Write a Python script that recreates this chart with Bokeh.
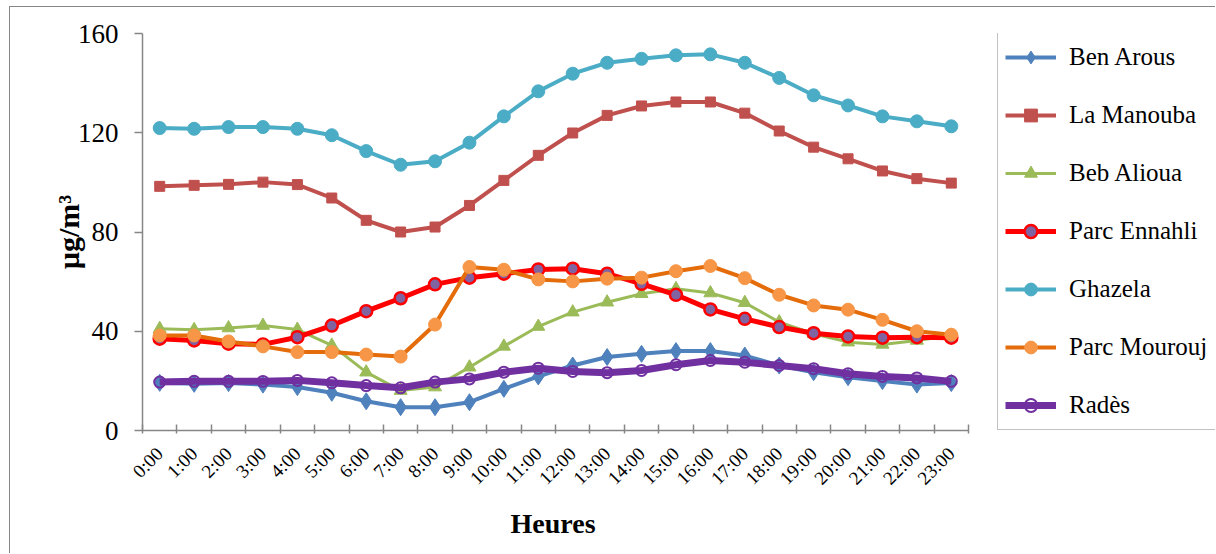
import math
from bokeh.plotting import figure
from bokeh.models import Range1d, FixedTicker, Legend, LegendItem, Title
from bokeh.embed import file_html
from bokeh.resources import INLINE

hours = ["0:00", "1:00", "2:00", "3:00", "4:00", "5:00", "6:00", "7:00", "8:00", "9:00",
         "10:00", "11:00", "12:00", "13:00", "14:00", "15:00", "16:00", "17:00", "18:00",
         "19:00", "20:00", "21:00", "22:00", "23:00"]

ben_arous = [19.2, 18.8, 19.1, 18.5, 17.5, 15.2, 11.8, 9.4, 9.4, 11.4, 16.8, 21.8,
             26.2, 29.6, 30.9, 32.0, 32.0, 30.2, 26.2, 23.5, 21.5, 19.9, 18.5, 19.1]
la_manouba = [98.4, 98.8, 99.2, 100.1, 99.1, 93.7, 84.7, 80.0, 82.0, 90.7, 100.8, 110.9,
              119.9, 127.0, 130.8, 132.4, 132.4, 127.9, 120.7, 114.2, 109.5, 104.6, 101.5, 99.7]
beb_alioua = [41.0, 40.6, 41.3, 42.3, 40.7, 34.3, 23.5, 16.1, 17.5, 25.5, 33.9, 41.9,
              47.7, 51.7, 55.1, 57.1, 55.4, 51.5, 43.7, 39.0, 35.6, 34.7, 36.3, 38.3]
parc_ennahli = [37.0, 36.3, 35.0, 34.7, 37.6, 42.3, 48.1, 53.3, 58.9, 61.6, 63.2, 64.9,
                65.2, 63.2, 59.1, 54.7, 48.8, 45.0, 41.7, 39.2, 37.9, 37.4, 37.6, 37.4]
ghazela = [121.9, 121.6, 122.3, 122.3, 121.6, 119.0, 112.6, 107.1, 108.5, 116.0, 126.6, 136.7,
           143.8, 148.2, 149.8, 151.2, 151.6, 148.2, 142.1, 135.1, 131.0, 126.6, 124.6, 122.6]
parc_mourouj = [38.3, 38.3, 35.9, 33.9, 31.6, 31.6, 30.6, 29.8, 42.7, 65.9, 64.8, 60.9,
                60.1, 61.2, 61.6, 64.2, 66.3, 61.4, 54.7, 50.4, 48.7, 44.6, 40.0, 38.6]
rades = [19.5, 19.8, 19.8, 19.8, 20.2, 19.2, 18.1, 17.2, 19.5, 20.8, 23.5, 25.1,
         23.8, 23.3, 24.2, 26.5, 28.2, 27.5, 26.2, 24.9, 22.9, 21.8, 21.2, 19.8]

n = len(hours)
x = [i + 0.5 for i in range(n)]

SERIF = "Liberation Serif"
AXIS_GRAY = "#868686"

# layout (page pixels): data area 142..968, frame extended to 1215 so the legend box fits in it
PAGE_X0, PAGE_Y0 = 10, 7
FRAME_L, DATA_R, FRAME_R = 142, 968, 1215
x_end = n * (FRAME_R - FRAME_L) / (DATA_R - FRAME_L)

W, H = 1206, 547
p = figure(width=W, height=H, output_backend="svg", toolbar_location=None,
           x_range=Range1d(0, x_end), y_range=Range1d(0, 160),
           min_border_left=FRAME_L - PAGE_X0, min_border_right=PAGE_X0 + W - FRAME_R,
           min_border_top=33 - PAGE_Y0, min_border_bottom=PAGE_Y0 + H - 430,
           styles={"margin-left": "9px", "margin-top": "6px",
                   "border-left": "1px solid #868686", "border-top": "1px solid #868686"})
p.outline_line_color = None
p.xgrid.grid_line_color = None
p.ygrid.grid_line_color = None
p.background_fill_color = "white"
p.border_fill_color = "white"

# x axis
p.xaxis.bounds = (0, n)
p.xaxis.ticker = FixedTicker(ticks=x, minor_ticks=list(range(n + 1)))
p.xaxis.major_label_overrides = {xv: h for xv, h in zip(x, hours)}
p.xaxis.major_tick_line_color = None
p.xaxis.minor_tick_line_color = AXIS_GRAY
p.xaxis.minor_tick_line_width = 1.5
p.xaxis.minor_tick_in = 6
p.xaxis.minor_tick_out = 3
p.xaxis.axis_line_color = AXIS_GRAY
p.xaxis.axis_line_width = 1.5
p.xaxis.major_label_orientation = math.pi / 4
p.xaxis.major_label_text_font = SERIF
p.xaxis.major_label_text_font_size = "19px"
p.xaxis.major_label_text_color = "black"
p.xaxis.major_label_standoff = 14

# x axis title, centred under the data area (not the extended frame)
xtitle = Title(text="Heures", align="left", offset=368, standoff=14,
               text_font=SERIF, text_font_size="28px", text_font_style="bold",
               text_color="black")
p.add_layout(xtitle, "below")

# y axis
p.yaxis.ticker = FixedTicker(ticks=[0, 40, 80, 120, 160])
p.yaxis.minor_tick_line_color = None
p.yaxis.major_tick_line_color = AXIS_GRAY
p.yaxis.major_tick_line_width = 1.5
p.yaxis.major_tick_in = 0
p.yaxis.major_tick_out = 8
p.yaxis.axis_line_color = AXIS_GRAY
p.yaxis.axis_line_width = 1.5
p.yaxis.major_label_text_font = SERIF
p.yaxis.major_label_text_font_size = "27px"
p.yaxis.major_label_text_color = "black"
p.yaxis.major_label_standoff = 16
p.yaxis.axis_label = "µg/m³"
p.yaxis.axis_label_text_font = SERIF
p.yaxis.axis_label_text_font_size = "30px"
p.yaxis.axis_label_text_font_style = "bold"
p.yaxis.axis_label_text_color = "black"
p.yaxis.axis_label_standoff = -10

series = [
    ("Ben Arous", ben_arous, dict(lc="#4F81BD", lw=4, marker="diamond", size=17,
                                  fill="#4F81BD", mlc="#4F81BD", mlw=1)),
    ("La Manouba", la_manouba, dict(lc="#C0504D", lw=4, marker="square", size=10,
                                    fill="#C0504D", mlc="#C0504D", mlw=1)),
    ("Beb Alioua", beb_alioua, dict(lc="#9BBB59", lw=3, marker="triangle", size=13,
                                    fill="#9BBB59", mlc="#9BBB59", mlw=1)),
    ("Parc Ennahli", parc_ennahli, dict(lc="#FF0000", lw=5, marker="circle", size=12,
                                        fill="#8064A2", mlc="#FF0000", mlw=2.5)),
    ("Ghazela", ghazela, dict(lc="#4BACC6", lw=4, marker="circle", size=13,
                              fill="#4BACC6", mlc="#4BACC6", mlw=1)),
    ("Parc Mourouj", parc_mourouj, dict(lc="#E46C0A", lw=4, marker="circle", size=13,
                                        fill="#F79646", mlc="#F79646", mlw=1)),
    ("Radès", rades, dict(lc="#7030A0", lw=7, marker="circle", size=11,
                          fill=None, mlc="#7030A0", mlw=2)),
]

items = []
for name, vals, st in series:
    lr = p.line(x, vals, line_color=st["lc"], line_width=st["lw"])
    sr = p.scatter(x, vals, marker=st["marker"], size=st["size"], fill_color=st["fill"],
                   line_color=st["mlc"], line_width=st["mlw"])
    items.append(LegendItem(label=name, renderers=[lr, sr]))

legend = Legend(items=items, location=(997 - FRAME_L, 0))
legend.label_text_font = SERIF
legend.label_text_font_size = "25px"
legend.label_text_color = "black"
legend.glyph_width = 51
legend.glyph_height = 32
legend.label_height = 34
legend.label_width = 170
legend.spacing = 24
legend.padding = 7
legend.margin = 0
legend.label_standoff = 13
legend.border_line_color = AXIS_GRAY
legend.border_line_width = 1.5
legend.background_fill_color = "white"
legend.background_fill_alpha = 1
p.add_layout(legend)

open("out.html", "w").write(file_html(p, INLINE))
